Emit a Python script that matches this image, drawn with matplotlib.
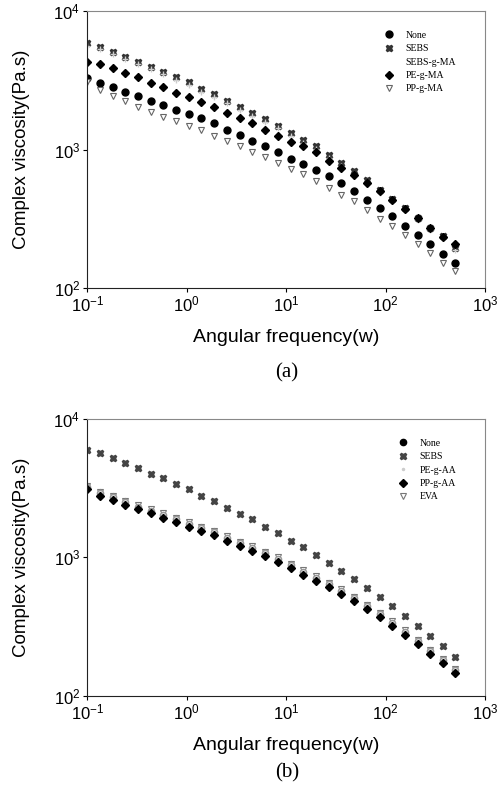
import matplotlib
matplotlib.use("Agg")
import matplotlib.pyplot as plt

# angular frequency (rad/s), same grid for every sample
freq = [0.1, 0.134, 0.18, 0.242, 0.325, 0.436, 0.585, 0.785, 1.05, 1.41,
        1.9, 2.55, 3.42, 4.59, 6.16, 8.27, 11.1, 14.9, 20.0, 26.8,
        36.0, 48.3, 64.8, 87.0, 117, 157, 210, 282, 379, 500]

# (a) maleic anhydride grafted compatibilizers
a_none = [3306, 3008, 2814, 2592, 2438, 2244, 2099, 1932, 1808, 1683,
          1548, 1386, 1276, 1161, 1069, 967, 861, 788, 714, 639,
          572, 498, 434, 378, 329, 281, 242, 208, 177, 151]
a_sebs = [5848, 5535, 5093, 4688, 4315, 3972, 3648, 3327, 3062, 2725,
          2508, 2244, 2020, 1828, 1655, 1482, 1313, 1162, 1052, 910,
          797, 694, 604, 506, 438, 378, 320, 271, 236, 194]
a_sebs_g_ma = [5600, 5300, 4880, 4490, 4130, 3800, 3490, 3180, 2930, 2610,
               2400, 2150, 1935, 1750, 1585, 1420, 1258, 1110, 1005, 870,
               765, 665, 580, 488, 422, 364, 308, 262, 228, 188]
a_pe_g_ma = [4315, 4125, 3902, 3592, 3322, 3008, 2814, 2548, 2411, 2219,
             2042, 1848, 1701, 1548, 1386, 1255, 1142, 1069, 957, 833,
             733, 656, 572, 503, 434, 371, 320, 271, 233, 208]
a_pp_g_ma = [3092, 2693, 2438, 2244, 2042, 1858, 1710, 1619, 1490, 1386,
             1255, 1155, 1063, 967, 890, 797, 726, 664, 588, 526,
             471, 422, 363, 315, 278, 242, 208, 179, 151, 133]

# (b) acrylic acid grafted compatibilizers and EVA
b_none = [3220, 2900, 2720, 2500, 2330, 2180, 2030, 1880, 1750, 1630,
          1520, 1390, 1270, 1175, 1075, 980, 880, 785, 715, 640,
          575, 510, 445, 390, 338, 291, 250, 212, 181, 154]
b_sebs = [5975, 5714, 5257, 4786, 4452, 4009, 3728, 3376, 3107, 2796,
          2572, 2290, 2049, 1887, 1670, 1511, 1323, 1184, 1042, 918,
          803, 699, 599, 522, 449, 378, 322, 273, 231, 192]
b_pe_g_aa = [3380, 3050, 2860, 2630, 2450, 2290, 2130, 1980, 1840, 1710,
             1600, 1460, 1335, 1235, 1130, 1030, 925, 825, 750, 672,
             603, 535, 467, 408, 354, 304, 261, 221, 188, 160]
b_pp_g_aa = [3107, 2780, 2602, 2393, 2228, 2084, 1939, 1794, 1670, 1553,
             1454, 1323, 1211, 1120, 1025, 933, 835, 747, 680, 609,
             545, 485, 422, 370, 320, 276, 237, 201, 172, 147]
b_eva = [3300, 2980, 2790, 2570, 2390, 2240, 2080, 1930, 1790, 1670,
         1560, 1420, 1300, 1205, 1100, 1005, 900, 805, 732, 655,
         588, 522, 455, 398, 345, 297, 255, 216, 184, 157]

labels_a = ["None", "SEBS", "SEBS-g-MA", "PE-g-MA", "PP-g-MA"]
labels_b = ["None", "SEBS", "PE-g-AA", "PP-g-AA", "EVA"]

sans = ["Liberation Sans", "DejaVu Sans"]
serif = ["Liberation Serif", "DejaVu Serif"]


def style_axes(ax):
    ax.set_xscale("log")
    ax.set_yscale("log")
    ax.set_xlim(0.1, 1000)
    ax.set_ylim(100, 10000)
    ax.set_xticks([0.1, 1, 10, 100, 1000])
    ax.set_yticks([100, 1000, 10000])
    ax.minorticks_off()
    ax.tick_params(direction="out", length=3, width=0.8, labelsize=12,
                   top=False, right=False, pad=2)
    for lab in ax.get_xticklabels() + ax.get_yticklabels():
        lab.set_family(sans)
    ax.spines["top"].set_color("#888888")
    ax.spines["right"].set_color("#888888")
    ax.spines["left"].set_color("#222222")
    ax.spines["bottom"].set_color("#222222")
    ax.set_xlabel("Angular frequency(w)", family=sans, fontsize=14, labelpad=10)
    ax.set_ylabel("Complex viscosity(Pa.s)", family=sans, fontsize=13.5, labelpad=17)


def add_legend(ax, names):
    h, l = ax.get_legend_handles_labels()
    order = [l.index(n) for n in names]
    return ax.legend([h[i] for i in order], [l[i] for i in order],
                     loc="upper right", bbox_to_anchor=(0.95, 0.96),
                     frameon=False, prop={"family": serif, "size": 7},
                     handletextpad=1.1, labelspacing=0.45, handlelength=1.2)


fig = plt.figure(figsize=(5.01, 7.89), dpi=100)
ax1 = fig.add_axes([0.174, 0.635, 0.794, 0.351])
ax2 = fig.add_axes([0.174, 0.118, 0.794, 0.351])

# top panel
ax1.plot(freq, a_sebs, "X", color="#333333", ms=5, ls="none", label=labels_a[1])
ax1.plot(freq, a_sebs_g_ma, "+", color="#cccccc", ms=4, ls="none", label=labels_a[2])
ax1.plot(freq, a_pe_g_ma, "D", color="black", ms=4.5, ls="none", label=labels_a[3])
ax1.plot(freq, a_none, "o", color="black", ms=5, ls="none", label=labels_a[0])
ax1.plot(freq, a_pp_g_ma, "v", mfc="white", mec="#666666", ms=4.5, mew=0.8,
         ls="none", label=labels_a[4])
style_axes(ax1)
leg1 = add_legend(ax1, labels_a)
# SEBS-g-MA symbol is barely visible in the key
leg1.legend_handles[2].set_alpha(0)

# bottom panel
ax2.plot(freq, b_sebs, "X", color="#444444", ms=5, ls="none", label=labels_b[1])
ax2.plot(freq, b_pe_g_aa, ".", color="#cccccc", ms=3, ls="none", label=labels_b[2])
ax2.plot(freq, b_eva, "v", mfc="white", mec="#777777", ms=4.5, mew=0.8,
         ls="none", label=labels_b[4])
ax2.plot(freq, b_none, "o", mfc="#dddddd", mec="#999999", ms=4.5, ls="none",
         label=labels_b[0])
ax2.plot(freq, b_pp_g_aa, "D", color="black", ms=4.5, ls="none", label=labels_b[3])
style_axes(ax2)
leg2 = add_legend(ax2, labels_b)
# the None symbol in the key is solid
leg2.legend_handles[0].set_markerfacecolor("black")
leg2.legend_handles[0].set_markeredgecolor("black")

fig.text(0.573, 0.528, "(a)", family=serif, fontsize=15, ha="center", va="center")
fig.text(0.573, 0.020, "(b)", family=serif, fontsize=15, ha="center", va="center")

fig.savefig("out.png", dpi=100)
